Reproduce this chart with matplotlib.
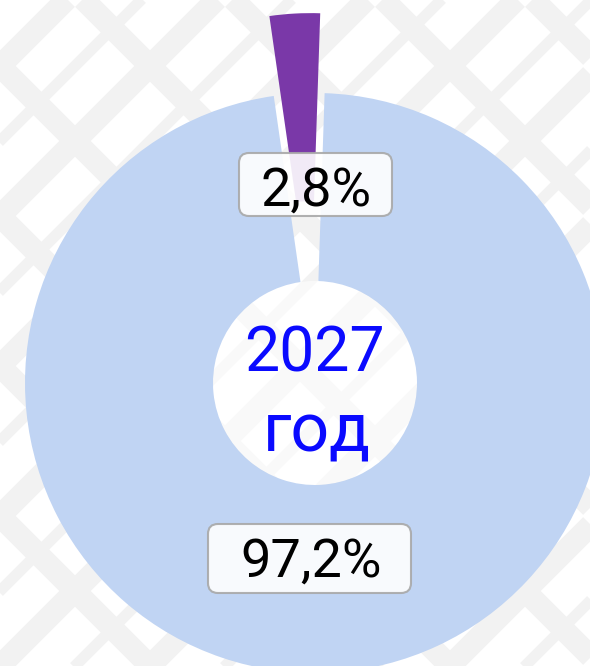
import numpy as np
import matplotlib.pyplot as plt
from matplotlib.patches import FancyBboxPatch, Circle

# data
year_label = ["2027", "год"]
shares = [2.8, 97.2]
slice_colors = ["#7a38a8", "#c0d4f3"]
pct_labels = [f"{v:.1f}%".replace(".", ",") for v in shares]

W, H = 590, 666
fig = plt.figure(figsize=(W / 100, H / 100), dpi=100)
ax = fig.add_axes([0, 0, 1, 1])
fig.patch.set_facecolor("white")

# light ornament in the background: diagonal lattice
step = 150
for c in np.arange(-900, 1500, step):
    xs = np.array([-50, W + 50])
    ax.plot(xs, xs - c, color="#f2f2f2", lw=16, solid_capstyle="butt", zorder=0)
    ax.plot(xs, c - xs, color="#f2f2f2", lw=16, solid_capstyle="butt", zorder=0)
    ax.plot(xs, xs - c - step / 2, color="#f2f2f2", lw=8, solid_capstyle="butt", zorder=0)

cx, cy, R = 315, H - 383, 290
wedges, _ = ax.pie(shares, colors=slice_colors, startangle=88.1, counterclock=True,
                   radius=R, center=(cx, cy), explode=[80, 0],
                   wedgeprops=dict(width=188, linewidth=0), frame=True)
for w in wedges:
    w.set_zorder(2)

# soften the ornament inside the hole
ax.add_patch(Circle((cx, cy), R - 188, facecolor="white", alpha=0.6,
                    lw=0, zorder=1))

fam = ["Roboto", "DejaVu Sans"]
ax.text(cx - 1, H - 372, year_label[0], ha="center", va="baseline",
        fontsize=45, color="#0a0aff", family=fam, zorder=5)
ax.text(cx + 2, H - 452, year_label[1], ha="center", va="baseline",
        fontsize=49, color="#0a0aff", family=fam, zorder=5)

# value labels in rounded boxes
boxes = [(239, H - 216, 153, 63), (208, H - 593, 203, 69)]
text_pos = [(316, H - 206), (311, H - 577)]
for (bx, by, bw, bh), (tx, ty), lab in zip(boxes, text_pos, pct_labels):
    ax.add_patch(FancyBboxPatch((bx, by), bw, bh,
                                boxstyle="round,pad=0,rounding_size=10",
                                facecolor="white", edgecolor="#a8a8a8",
                                lw=1.5, alpha=0.9, zorder=3))
    ax.text(tx, ty, lab, ha="center", va="baseline", fontsize=39,
            color="black", family=fam, zorder=4)

ax.set_xlim(0, W)
ax.set_ylim(0, H)
ax.set_aspect("equal")
ax.axis("off")
fig.savefig("out.png", dpi=100)
